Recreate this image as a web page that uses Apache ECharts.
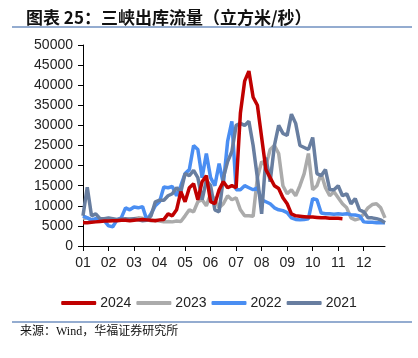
<!DOCTYPE html>
<html><head><meta charset="utf-8">
<script src="https://cdn.jsdelivr.net/npm/echarts@6/dist/echarts.min.js"></script>
<style>html,body{margin:0;padding:0;background:#fff}#c{width:418px;height:358px}</style>
</head><body><div id="c"></div>
<script>
const months = ['01','02','03','04','05','06','07','08','09','10','11','12'];
const days = ['01','06','11','16','21','26'];
const categories = [];
months.forEach(m => days.forEach(d => categories.push(m + '-' + d)));

const y2024 = [5800,5800,5900,6000,6100,6200, 6200,6300,6300,6400,6400,6300,
  6400,6500,6600,6500,6400,6300, 6500,6600,8000,7500,9000,13500,
  11000,14500,15500,11500,16000,17500, 11000,10500,14000,16000,14500,15000,
  14500,33000,41000,43500,37000,35000, 27000,19000,17000,15000,14300,12000,
  10500,8000,7500,7400,7300,7200, 7200,7100,7000,7000,6900,6900,
  6900,6800,null,null,null,null, null,null,null,null,null,null];
const y2023 = [6800,7000,6500,6500,6600,6700, 6500,6400,6500,6600,6500,6800,
  6800,7000,6900,6500,6300,6400, 6200,6000,6100,6000,6200,6100,
  7500,9000,8500,11000,11500,10000, 13000,11500,9500,10500,12500,11500,
  12000,9000,7500,7500,7400,17000, 21000,20000,24000,25000,23000,15000,
  13000,14000,12500,15000,18000,23000, 14000,15000,18000,14500,12500,13500,
  12000,10500,9500,7000,6500,6800, 8000,9500,10300,10500,9500,7000];
const y2022 = [7500,7000,6500,6800,6500,6300, 5000,4800,6500,7000,9500,9000,
  9700,9500,9800,6500,8000,10000, 11000,14700,14500,14800,12500,15000,
  18000,19000,25000,24000,17000,23000, 17000,15000,20500,15500,26000,31000,
  14000,14000,15000,14500,14000,14500, 11500,11000,10500,9500,9000,8800,
  8300,7000,6600,6500,6600,6800, 11800,11500,8200,8000,8000,7900,
  8000,7900,8000,7800,7700,7500, 6000,5900,5900,5800,5800,5800];
const y2021 = [7500,14600,7500,8000,6800,6800, 7000,6800,6600,6700,6800,6600,
  6800,6500,6300,6400,7500,11000, 11400,11400,12500,13000,14500,13500,
  18000,17500,18800,17000,11500,16300, 15000,9000,8500,17000,21000,23500,
  30000,30500,30000,31000,25000,17000, 8000,22000,16000,25000,30000,28000,
  27500,32800,30500,25000,24500,24000, 27000,18000,17500,19000,14000,14000,
  15000,12500,13000,10500,11800,9000, 8500,7000,7000,6800,6500,5800];
const yTicks = [0,5000,10000,15000,20000,25000,30000,35000,40000,45000,50000];

const seriesDefs = [
  {name:'2024', data:y2024, color:'#c00000', z:5},
  {name:'2023', data:y2023, color:'#ababab', z:2},
  {name:'2022', data:y2022, color:'#4a8ef2', z:3},
  {name:'2021', data:y2021, color:'#687ea0', z:4}
];

const chart = echarts.init(document.getElementById('c'), null, {renderer:'canvas'});
chart.setOption({
  animation:false,
  backgroundColor:'#fff',
  title:{
    text:'图表 25：三峡出库流量（立方米/秒）',
    left:21, top:4,
    textStyle:{fontFamily:'Noto Sans CJK SC', fontWeight:'bold', fontSize:17, color:'#111'}
  },
  graphic:[
    {type:'line', shape:{x1:12,y1:27,x2:412,y2:27}, style:{stroke:'#94acd0', lineWidth:2}},
    {type:'line', shape:{x1:12,y1:322,x2:412,y2:322}, style:{stroke:'#94acd0', lineWidth:2}},
    {type:'text', left:20, top:326, style:{text:'来源：Wind，华福证券研究所', fontFamily:'Liberation Serif, Noto Sans CJK SC', fontSize:12, fill:'#111'}}
  ],
  legend:{
    data:seriesDefs.map(s=>({name:s.name, icon:'roundRect'})),
    left:'center', top:291,
    itemWidth:35, itemHeight:4, itemGap:5,
    textStyle:{fontFamily:'Liberation Sans', fontSize:14, color:'#222', padding:[0,0,0,-1]}
  },
  grid:{left:83, right:33, top:45, bottom:112},
  xAxis:{
    type:'category', data:categories, boundaryGap:false,
    axisLine:{lineStyle:{color:'#000', width:1}},
    axisTick:{show:true, interval:5, length:5, lineStyle:{color:'#000'}},
    axisLabel:{interval:5, formatter:v=>v.slice(0,2), margin:10,
      fontFamily:'Liberation Sans', fontSize:14, color:'#222'}
  },
  yAxis:{
    type:'value', min:yTicks[0], max:yTicks[yTicks.length-1], interval:5000,
    splitLine:{show:false},
    axisLine:{show:true, lineStyle:{color:'#000', width:1}},
    axisTick:{show:true, length:5, lineStyle:{color:'#000'}},
    axisLabel:{margin:10, formatter:v=>String(v), fontFamily:'Liberation Sans', fontSize:14, color:'#222'}
  },
  series:seriesDefs.map(s=>({
    name:s.name, type:'line', data:s.data, symbol:'none', z:s.z,
    connectNulls:false,
    lineStyle:{color:s.color, width:3.5},
    itemStyle:{color:s.color}
  }))
});
</script></body></html>
